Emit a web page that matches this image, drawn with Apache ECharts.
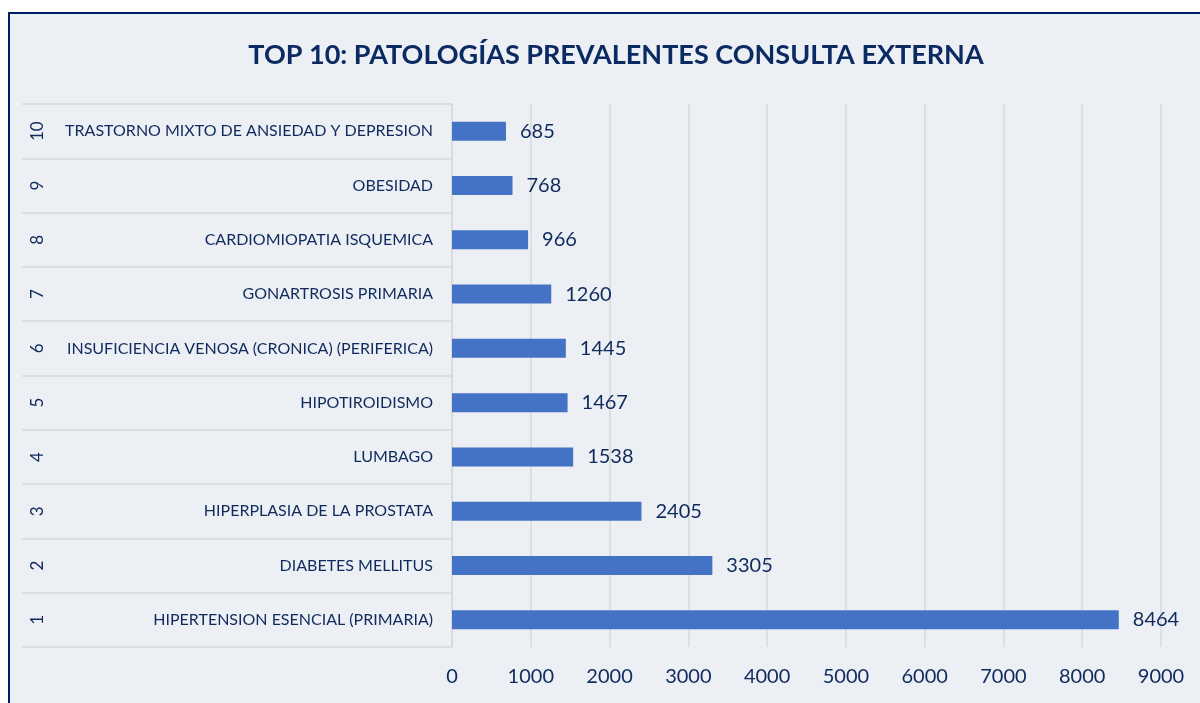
<!DOCTYPE html>
<html>
<head>
<meta charset="utf-8">
<title>Top 10 patologías</title>
<script src="https://cdn.jsdelivr.net/npm/echarts@6/dist/echarts.min.js"></script>
<style>
    html, body { margin: 0; padding: 0; background: #ffffff; }
    #chart { width: 1200px; height: 703px; }
</style>
</head>
<body>
<div id="chart"></div>
<script>
    // datos (orden de abajo hacia arriba: rango 1 abajo)
    const ranks = ['1', '2', '3', '4', '5', '6', '7', '8', '9', '10']
    const names = [
        'HIPERTENSION ESENCIAL (PRIMARIA)',
        'DIABETES MELLITUS',
        'HIPERPLASIA DE LA PROSTATA',
        'LUMBAGO',
        'HIPOTIROIDISMO',
        'INSUFICIENCIA VENOSA (CRONICA) (PERIFERICA)',
        'GONARTROSIS PRIMARIA',
        'CARDIOMIOPATIA ISQUEMICA',
        'OBESIDAD',
        'TRASTORNO MIXTO DE ANSIEDAD Y DEPRESION'
    ]
    const casos = [8464, 3305, 2405, 1538, 1467, 1445, 1260, 966, 768, 685]

    const navy = '#0f2a5c'
    const gridGray = '#d9d9d9'
    const font = 'Lato'

    const chart = echarts.init(document.getElementById('chart'))
    const option = {
        animation: false,
        textStyle: { fontFamily: font },
        graphic: [
            {
                // fondo del gráfico con borde azul
                type: 'rect',
                z: -10,
                shape: { x: 9, y: 13, width: 1300, height: 800 },
                style: { fill: '#eceff3', stroke: '#002060', lineWidth: 2 }
            }
        ],
        title: {
            text: 'TOP 10: PATOLOGÍAS PREVALENTES CONSULTA EXTERNA',
            left: 611,
            top: 37,
            textAlign: 'center',
            textStyle: {
                color: '#0c2a62',
                fontSize: 27,
                fontWeight: 'bold',
                fontFamily: font
            }
        },
        grid: {
            left: 452,
            right: 39,
            top: 104,
            bottom: 56
        },
        xAxis: {
            type: 'value',
            min: 0,
            max: 9000,
            interval: 1000,
            axisLine: { show: false },
            axisTick: { show: false },
            splitLine: { lineStyle: { color: gridGray, width: 1.5 } },
            axisLabel: {
                color: navy,
                fontSize: 20,
                margin: 20,
                formatter: (v) => String(v)
            }
        },
        yAxis: [
            {
                type: 'category',
                data: names,
                axisLine: { show: true, lineStyle: { color: gridGray, width: 1.5 } },
                axisTick: {
                    show: true,
                    interval: 0,
                    length: 430,
                    lineStyle: { color: gridGray, width: 1.5 }
                },
                axisLabel: { color: navy, fontSize: 16, margin: 19, interval: 0 }
            },
            {
                type: 'category',
                data: ranks,
                position: 'left',
                offset: 414,
                axisLine: { show: false },
                axisTick: { show: false },
                axisLabel: {
                    color: navy,
                    fontSize: 17,
                    margin: 0,
                    rotate: 90,
                    align: 'center',
                    verticalAlign: 'middle',
                    interval: 0
                }
            }
        ],
        series: [
            {
                type: 'bar',
                yAxisIndex: 0,
                data: casos,
                barWidth: 19,
                itemStyle: { color: '#4472c4' },
                label: {
                    show: true,
                    position: 'right',
                    distance: 14,
                    color: navy,
                    fontSize: 20,
                    fontFamily: font
                }
            }
        ]
    }
    chart.setOption(option)
</script>
</body>
</html>
